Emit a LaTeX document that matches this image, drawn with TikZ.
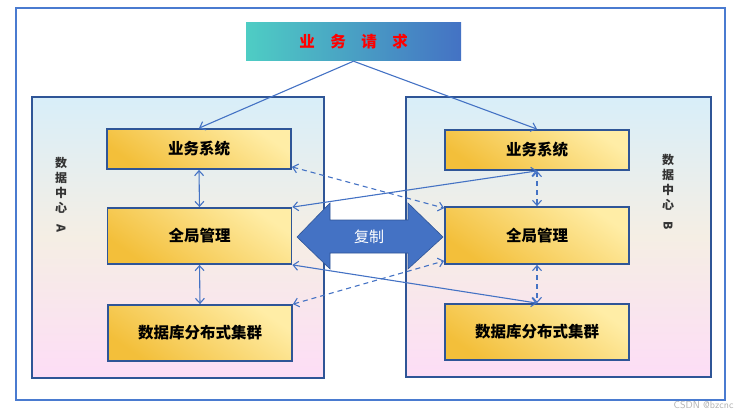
\documentclass[tikz,border=0pt]{standalone}
\usepackage{fontspec}
\usepackage{graphicx}
\newfontfamily\cjk{Noto Sans CJK SC}
\usetikzlibrary{arrows.meta}
\definecolor{linkblue}{HTML}{4472C4}
\definecolor{edgeblue}{HTML}{2F5597}
\definecolor{frameblue}{HTML}{4A7BD0}
\definecolor{gold}{HTML}{F3BF3A}
\definecolor{paleyellow}{HTML}{FFEDA6}
\definecolor{skytop}{HTML}{D8EEF9}
\definecolor{beigemid}{HTML}{F5EEE4}
\definecolor{pinkbottom}{HTML}{FDDDF6}
\definecolor{teal}{HTML}{4ECDC4}
\tikzstyle{block} = [rectangle, draw=edgeblue, line width=1.8pt,
                 minimum width=184pt, minimum height=40pt,
                 top color=paleyellow, bottom color=gold, shading angle=-35,
                 font=\cjk\bfseries\fontsize{15.5}{15.5}\selectfont]
\tikzstyle{center} = [rectangle, draw=edgeblue, line width=1.6pt,
                 top color=skytop, bottom color=pinkbottom, middle color=beigemid]
\tikzstyle{side} = [font=\cjk\bfseries\fontsize{12}{15}\selectfont,
                 text=black!80, align=center, inner sep=0pt]
\tikzstyle{link} = [draw=linkblue, line width=1.1pt,
                 {Straight Barb[length=5pt,width=9pt]}-{Straight Barb[length=5pt,width=9pt]}]

\begin{document}
\begin{tikzpicture}[x=1pt,y=-1pt]

\useasboundingbox (0,0) rectangle (749,417);
\draw [frameblue, line width=1.6pt] (16,8) rectangle (725,400);

% data centres
\path [center] (32,97) rectangle (324,378);
\path [center] (406,97) rectangle (711,377);
\node [side, anchor=north] (dca) at (61,157) {数\\据\\中\\心\\[-3pt]\rotatebox{-90}{A}};
\node [side, anchor=north] (dcb) at (668,154) {数\\据\\中\\心\\[-3pt]\rotatebox{-90}{B}};

% request
\node [rectangle, minimum width=215pt, minimum height=38pt,
       left color=teal, right color=linkblue,
       font=\cjk\bfseries\fontsize{15.5}{15.5}\selectfont, text=red]
       at (353.5,42) (req) {业\hspace{1em}务\hspace{1em}请\hspace{1em}求};

\node [block] at (199,149) (sysa) {业务系统};
\node [block, minimum height=56pt] at (199.5,236) (gma) {全局管理};
\node [block, minimum height=56pt] at (200,333) (dba) {数据库分布式集群};
\node [block] at (537,150) (sysb) {业务系统};
\node [block, minimum height=57pt] at (537,235.5) (gmb) {全局管理};
\node [block, minimum height=56pt] at (537,332) (dbb) {数据库分布式集群};

% replication
\filldraw [fill=linkblue, draw=edgeblue, line width=0.6pt]
    (297,237) -- (330,203) -- (330,220) -- (408,220) -- (408,203)
    -- (443,237) -- (408,269) -- (408,253) -- (330,253) -- (330,269) -- cycle;
\node [text=white, font=\cjk\fontsize{15}{15}\selectfont] at (369,237) (copy) {复制};

\draw [link, -{Straight Barb[length=5pt,width=9pt]}] (req.south) -- (sysa.north);
\draw [link, -{Straight Barb[length=5pt,width=9pt]}] (req.south) -- (sysb.north);
\path [link] (sysa.south) -- (gma.north);
\path [link] (gma.south) -- (dba.north);
\path [link, dashed, dash pattern=on 5pt off 4pt] (sysb.south) -- (gmb.north);
\path [link, dashed, dash pattern=on 5pt off 4pt] (gmb.south) -- (dbb.north);
\path [link, dashed, dash pattern=on 5pt off 4pt] (sysa.south east) ++(0,-3) -- ([yshift=-2pt]gmb.north west);
\path [link] (sysb.south) -- (gma.north east);
\path [link] (gma.south east) -- (dbb.north);
\path [link, dashed, dash pattern=on 5pt off 4pt] (dba.north east) -- ([yshift=4pt]gmb.south west);

\node [text=black!30, font=\sffamily\fontsize{10}{10}\selectfont, anchor=east]
      at (737,405) (mark) {CSDN @bzcnc};

\end{tikzpicture}
\end{document}
